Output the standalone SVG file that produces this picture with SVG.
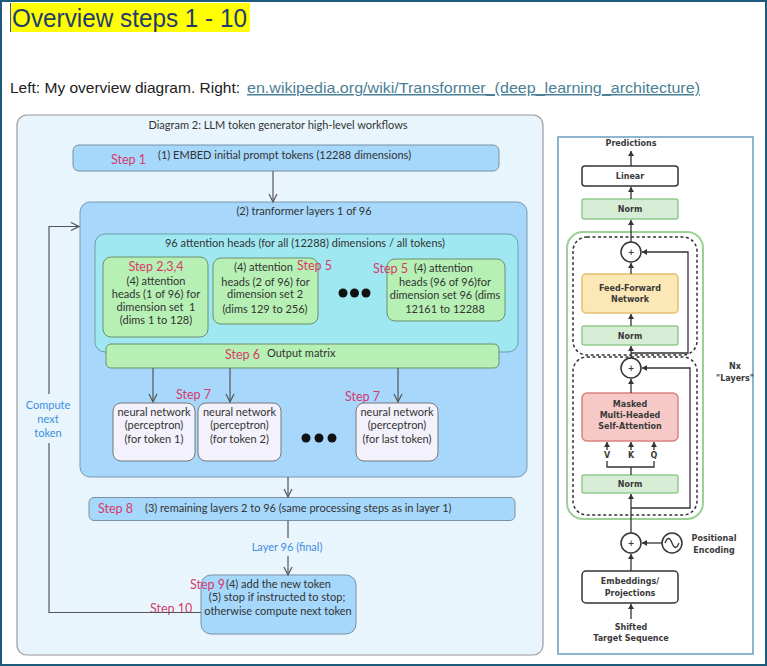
<svg xmlns="http://www.w3.org/2000/svg" width="767" height="666" viewBox="0 0 767 666">
<defs>
<style>
.t{font-family:Lato,"Open Sans","DejaVu Sans",sans-serif;font-size:11px;fill:#333}
.c{text-anchor:middle}
.st{font-family:Lato,"Open Sans",sans-serif;font-size:12.5px;fill:#d63a6b}
.bl{fill:#3c8de0}
.r{font-family:"DejaVu Sans",sans-serif;font-weight:bold;font-size:8px;fill:#3a3a3a;text-anchor:middle}
.ln{fill:none;stroke:#555;stroke-width:1.2}
.rl{fill:none;stroke:#333;stroke-width:1.3}
.blue{fill:#a6d8fb;stroke:#7990a3;stroke-width:1}
.grn{fill:#b6f0b4;stroke:#6d8f6d;stroke-width:1}
.nn{fill:#f3f1fb;stroke:#777;stroke-width:1}
.rn{fill:#d6ecd4;stroke:#93c98e;stroke-width:1.5}
.rw{fill:#fff;stroke:#333;stroke-width:1.5}
</style>
<marker id="oa" markerWidth="12" markerHeight="12" refX="9" refY="5" orient="auto" markerUnits="userSpaceOnUse">
<path d="M1,1 L9,5 L1,9" fill="none" stroke="#555" stroke-width="1.2"/>
</marker>
<marker id="ta" markerWidth="8" markerHeight="8" refX="5" refY="3" orient="auto" markerUnits="userSpaceOnUse">
<path d="M0,0 L5,3 L0,6 Z" fill="#333"/>
</marker>
</defs>

<rect x="1" y="1" width="765" height="664" fill="#fff" stroke="#1d5b7c" stroke-width="2"/>

<g id="header">
<rect x="10" y="3" width="240" height="29" fill="#ffff00"/>
<line x1="10.5" y1="3" x2="10.5" y2="32" stroke="#3050c0" stroke-width="1"/>
<text x="12" y="27" font-family="'Liberation Sans',Arial,sans-serif" font-size="26" fill="#1f3c72" textLength="235" lengthAdjust="spacingAndGlyphs">Overview steps 1 - 10</text>
<text x="10" y="93" font-family="'Liberation Sans',Arial,sans-serif" font-size="15" fill="#222" textLength="230" lengthAdjust="spacingAndGlyphs">Left: My overview diagram. Right:</text>
<text x="247" y="93" font-family="'Liberation Sans',Arial,sans-serif" font-size="15" fill="#4a7f96" text-decoration="underline" textLength="453" lengthAdjust="spacingAndGlyphs">en.wikipedia.org/wiki/Transformer_(deep_learning_architecture)</text>
</g>

<g id="left-diagram">
<rect x="17" y="115" width="526" height="540" rx="10" fill="#e9f5fd" stroke="#9a9a9a" stroke-width="1.2"/>
<text class="t c" x="278" y="128.5">Diagram 2: LLM token generator high-level workflows</text>
</g>

<g id="step1">
<rect class="blue" x="73" y="145" width="426" height="26" rx="6"/>
<text class="st" x="111" y="163.5">Step 1</text>
<text class="t" x="158" y="159">(1) EMBED initial prompt tokens (12288 dimensions)</text>
</g>

<g id="layer">
<rect x="80" y="202" width="447" height="275" rx="10" fill="#a7d8fc" stroke="#7a98b0" stroke-width="1"/>
<text class="t c" x="304" y="214.5">(2) tranformer layers 1 of 96</text>
</g>

<g id="attention">
<rect x="95" y="234" width="423" height="118" rx="10" fill="#9fe8f1" stroke="#6a9fa8" stroke-width="1"/>
<text class="t c" x="305" y="246.5">96 attention heads (for all (12288) dimensions / all tokens)</text>
</g>

<g id="head1">
<rect class="grn" x="103" y="257" width="105" height="80" rx="8"/>
<text class="st c" x="156" y="270.5">Step 2,3,4</text>
<text class="t c" x="156" y="284.5">(4) attention</text>
<text class="t c" x="156" y="297.5">heads (1 of 96) for</text>
<text class="t c" x="156" y="310.5" xml:space="preserve">dimension set  1</text>
<text class="t c" x="156" y="324">(dims 1 to 128)</text>
</g>

<g id="head2">
<rect class="grn" x="213" y="258" width="105" height="66" rx="8"/>
<text class="t c" x="263.5" y="271">(4) attention</text>
<text class="st" x="297" y="269.5">Step 5</text>
<text class="t c" x="265.5" y="285.5">heads (2 of 96) for</text>
<text class="t c" x="265" y="298">dimension set 2</text>
<text class="t c" x="265" y="312.5">(dims 129 to 256)</text>
</g>

<g id="dots1">
<circle cx="343" cy="293" r="4.5" fill="#111"/>
<circle cx="354.5" cy="293" r="4.5" fill="#111"/>
<circle cx="366" cy="293" r="4.5" fill="#111"/>
</g>

<g id="head3">
<rect class="grn" x="387" y="259" width="118" height="62" rx="8"/>
<text class="st" x="373" y="272.5">Step 5</text>
<text class="t" x="414" y="271.5">(4) attention</text>
<text class="t c" x="445" y="285.5">heads (96 of 96)for</text>
<text class="t c" x="445" y="298.5">dimension set 96 (dims</text>
<text class="t c" x="445" y="312.5">12161 to 12288</text>
</g>

<g id="output">
<rect class="grn" x="106" y="344" width="393" height="24" rx="5"/>
<text class="st" x="225" y="358.5">Step 6</text>
<text class="t" x="267" y="356.5">Output matrix</text>
</g>

<g id="nn1">
<rect class="nn" x="113" y="403" width="82" height="58" rx="8"/>
<text class="t c" x="154" y="416">neural network</text>
<text class="t c" x="154" y="429">(perceptron)</text>
<text class="t c" x="154" y="443">(for token 1)</text>
</g>
<g id="nn2">
<rect class="nn" x="198" y="403" width="83" height="58" rx="8"/>
<text class="t c" x="239.5" y="416">neural network</text>
<text class="t c" x="239.5" y="429">(perceptron)</text>
<text class="t c" x="239.5" y="443">(for token 2)</text>
</g>
<g id="nn3">
<rect class="nn" x="356" y="403" width="82" height="58" rx="8"/>
<text class="t c" x="397" y="416">neural network</text>
<text class="t c" x="397" y="429">(perceptron)</text>
<text class="t c" x="397" y="443">(for last token)</text>
</g>
<g id="step7-labels">
<text class="st" x="176" y="398.5">Step 7</text>
<text class="st" x="345" y="400.5">Step 7</text>
</g>
<g id="dots2">
<circle cx="306" cy="438" r="4.5" fill="#111"/>
<circle cx="319" cy="438" r="4.5" fill="#111"/>
<circle cx="332" cy="438" r="4.5" fill="#111"/>
</g>

<g id="step8">
<rect class="blue" x="89" y="497.5" width="426" height="23" rx="5"/>
<text class="st" x="98" y="512.5">Step 8</text>
<text class="t" x="145" y="512">(3) remaining layers 2 to 96 (same processing steps as in layer 1)</text>
</g>

<g id="step9">
<rect class="blue" x="201" y="575" width="155" height="59" rx="10"/>
<text class="t" x="226" y="587.5">(4) add the new token</text>
<text class="t c" x="277" y="601">(5) stop if instructed to stop;</text>
<text class="t c" x="278" y="614.5">otherwise compute next token</text>
<text class="st" x="190" y="588.5">Step 9</text>
<text class="st" x="150" y="612.5">Step 10</text>
</g>

<g id="connectors">
<line class="ln" x1="273" y1="171" x2="273" y2="202" marker-end="url(#oa)"/>
<line class="ln" x1="153" y1="368" x2="153" y2="402" marker-end="url(#oa)"/>
<line class="ln" x1="230" y1="368" x2="230" y2="402" marker-end="url(#oa)"/>
<line class="ln" x1="398" y1="368" x2="398" y2="402" marker-end="url(#oa)"/>
<line class="ln" x1="288" y1="477" x2="288" y2="497" marker-end="url(#oa)"/>
<line class="ln" x1="288" y1="520.5" x2="288" y2="538"/>
<line class="ln" x1="288" y1="556" x2="288" y2="575" marker-end="url(#oa)"/>
<text class="t c bl" x="287" y="551">Layer 96 (final)</text>
<path class="ln" d="M201,612.5 H49 V443"/>
<path class="ln" d="M49,394 V226.5 H79" marker-end="url(#oa)"/>
<text class="t c bl" x="48" y="409">Compute</text>
<text class="t c bl" x="48" y="422.5">next</text>
<text class="t c bl" x="48" y="436.5">token</text>
</g>

<g id="right-diagram">
<rect x="558" y="137" width="195" height="517" fill="#fff" stroke="#6b9cbf" stroke-width="1.5"/>
<rect x="567" y="232" width="136" height="287" rx="16" fill="none" stroke="#9cd095" stroke-width="2"/>
<rect x="573" y="237" width="124" height="118" rx="14" fill="none" stroke="#333" stroke-width="1.5" stroke-dasharray="3,2.5"/>
<rect x="573" y="357" width="124" height="158" rx="14" fill="none" stroke="#333" stroke-width="1.5" stroke-dasharray="3,2.5"/>
<text class="r" x="631" y="146">Predictions</text>
<text class="r" x="735" y="369">Nx</text>
<text class="r" x="735" y="381">"Layers"</text>
</g>
<g id="r-linear"><rect class="rw" x="582" y="166" width="96" height="20" rx="3"/><text class="r" x="630" y="179">Linear</text></g>
<g id="r-norm1"><rect class="rn" x="582" y="199" width="96" height="20" rx="2"/><text class="r" x="630" y="212">Norm</text></g>
<g id="r-add1"><circle cx="631" cy="252" r="10" fill="#fff" stroke="#333" stroke-width="1.5"/><text class="r" x="631" y="255" font-size="7">+</text></g>
<g id="r-ffn"><rect x="582" y="274" width="96" height="39" rx="4" fill="#fce8b6" stroke="#e3bf6e" stroke-width="1.5"/><text class="r" x="630" y="291">Feed-Forward</text><text class="r" x="630" y="302">Network</text></g>
<g id="r-norm2"><rect class="rn" x="582" y="326" width="96" height="19" rx="2"/><text class="r" x="630" y="338.5">Norm</text></g>
<g id="r-add2"><circle cx="631" cy="368" r="10" fill="#fff" stroke="#333" stroke-width="1.5"/><text class="r" x="631" y="371" font-size="7">+</text></g>
<g id="r-mhsa"><rect x="582" y="393" width="96" height="48" rx="5" fill="#f7c9c6" stroke="#d9837f" stroke-width="1.5"/><text class="r" x="630" y="407">Masked</text><text class="r" x="630" y="418">Multi-Headed</text><text class="r" x="630" y="429">Self-Attention</text></g>
<g id="r-vkq"><text class="r" x="607" y="458" font-size="7">V</text><text class="r" x="631" y="458" font-size="7">K</text><text class="r" x="654" y="458" font-size="7">Q</text></g>
<g id="r-norm3"><rect class="rn" x="582" y="475" width="96" height="18" rx="2"/><text class="r" x="630" y="487">Norm</text></g>
<g id="r-add3"><circle cx="631" cy="543" r="10" fill="#fff" stroke="#333" stroke-width="1.5"/><text class="r" x="631" y="546" font-size="7">+</text></g>
<g id="r-pos"><circle cx="672" cy="543" r="10" fill="#fff" stroke="#333" stroke-width="1.5"/><path d="M665,543 q3.5,-9 7,0 t7,0" fill="none" stroke="#333" stroke-width="1.3"/><text class="r" x="714" y="541">Positional</text><text class="r" x="714" y="553">Encoding</text></g>
<g id="r-emb"><rect class="rw" x="582" y="571" width="96" height="32" rx="4"/><text class="r" x="630" y="584">Embeddings/</text><text class="r" x="630" y="596">Projections</text></g>
<g id="r-input"><text class="r" x="631" y="630">Shifted</text><text class="r" x="631" y="641">Target Sequence</text></g>

<g id="r-connectors">
<line class="rl" x1="631" y1="166" x2="631" y2="151" marker-end="url(#ta)"/>
<line class="rl" x1="631" y1="199" x2="631" y2="187" marker-end="url(#ta)"/>
<line class="rl" x1="631" y1="242" x2="631" y2="220" marker-end="url(#ta)"/>
<line class="rl" x1="631" y1="274" x2="631" y2="263" marker-end="url(#ta)"/>
<line class="rl" x1="631" y1="326" x2="631" y2="314" marker-end="url(#ta)"/>
<path class="rl" d="M631,353 H688 V252 H642" marker-end="url(#ta)"/>
<line class="rl" x1="631" y1="358" x2="631" y2="346" marker-end="url(#ta)"/>
<line class="rl" x1="631" y1="393" x2="631" y2="379" marker-end="url(#ta)"/>
<path class="rl" d="M631,508 H690 V368 H642" marker-end="url(#ta)"/>
<line class="rl" x1="607" y1="450" x2="607" y2="442" marker-end="url(#ta)"/>
<line class="rl" x1="631" y1="450" x2="631" y2="442" marker-end="url(#ta)"/>
<line class="rl" x1="654" y1="450" x2="654" y2="442" marker-end="url(#ta)"/>
<path class="rl" d="M607,461 V467 H654 V461 M631,467 V475"/>
<line class="rl" x1="631" y1="533" x2="631" y2="494" marker-end="url(#ta)"/>
<line class="rl" x1="631" y1="571" x2="631" y2="554" marker-end="url(#ta)"/>
<line class="rl" x1="662" y1="543" x2="642" y2="543" marker-end="url(#ta)"/>
<line class="rl" x1="631" y1="619" x2="631" y2="604" marker-end="url(#ta)"/>
</g>
</svg>
